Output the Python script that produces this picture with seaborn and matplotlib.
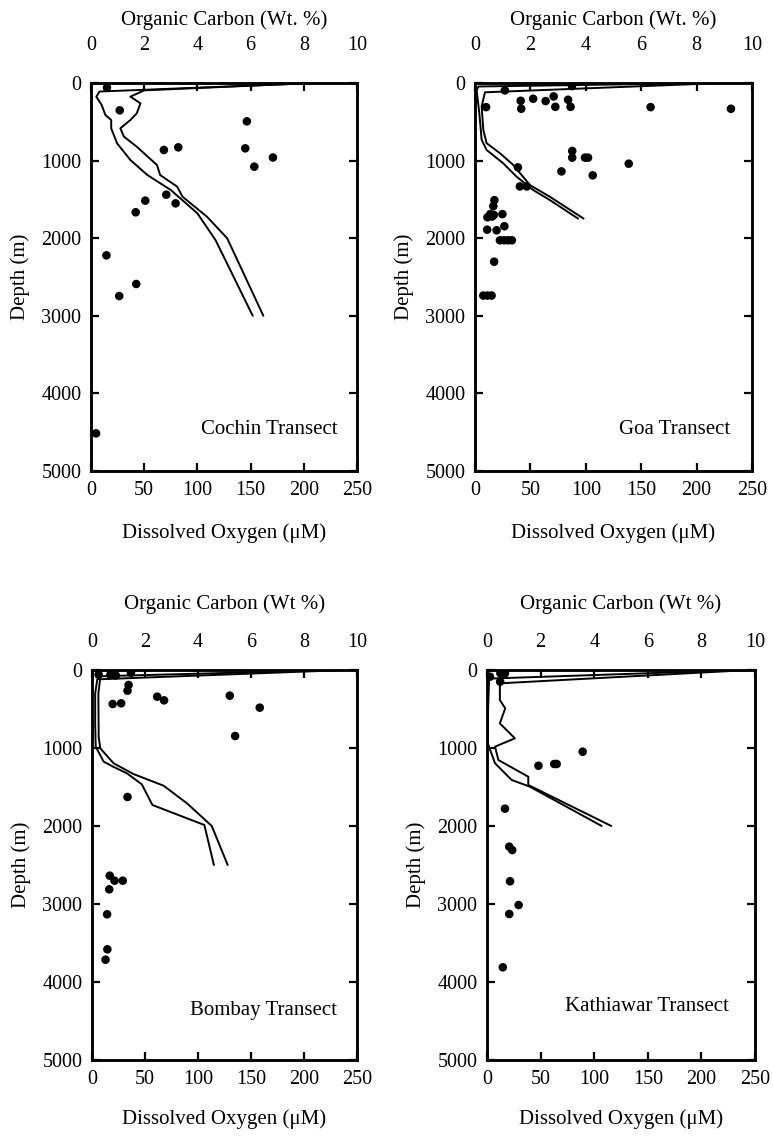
import numpy as np
import pandas as pd
import matplotlib
matplotlib.use("Agg")
import matplotlib.pyplot as plt
import seaborn as sns

sns.set_style("ticks")
plt.rcParams['font.family'] = ['Liberation Serif', 'DejaVu Serif']
plt.rcParams['mathtext.fontset'] = 'stix'
for k in ['text.color', 'axes.labelcolor', 'xtick.color', 'ytick.color', 'axes.edgecolor']:
    plt.rcParams[k] = 'black'

# ---------------- data ----------------
# Cochin
cochin_oc = [0.6, 1.08, 5.86, 2.74, 3.28, 5.8, 6.14, 6.84, 2.83, 2.04, 3.18, 1.68, 0.58, 1.70, 1.06, 0.19]
cochin_oc_depth = [60, 352, 494, 863, 829, 842, 1078, 960, 1439, 1516, 1551, 1666, 2221, 2590, 2745, 4515]
cochin_o2_a = [212, 8, 5, 10, 13.5, 19, 19, 24.5, 37, 53, 75, 100, 117, 152]
cochin_o2_a_depth = [0, 110, 176, 283, 412, 477, 584, 777, 992, 1186, 1379, 1680, 2023, 3000]
cochin_o2_b = [208, 50, 37, 46.5, 43, 37, 27.6, 31, 43, 62, 65, 81, 86, 109, 128, 162]
cochin_o2_b_depth = [0, 95, 176, 262, 391, 477, 584, 692, 821, 1057, 1186, 1336, 1465, 1723, 2001, 3000]

# Goa
goa_oc = [1.08, 3.5, 0.40, 1.65, 1.67, 2.1, 2.55, 2.84, 2.9, 3.36, 3.45, 6.34, 9.24,
          3.51, 3.51, 3.97, 4.08, 5.55, 3.12, 4.25, 1.55, 1.62, 1.87,
          0.70, 0.66, 0.55, 0.62, 0.68, 0.45, 0.99, 0.44, 1.06, 0.78,
          0.9, 1.05, 1.2, 1.33, 0.69, 0.3, 0.45, 0.6]
goa_oc_depth = [95, 40, 311, 229, 332, 203, 233, 173, 307, 216, 307, 311, 332,
                876, 962, 962, 962, 1040, 1139, 1190, 1087, 1333, 1333,
                1510, 1587, 1690, 1720, 1700, 1730, 1690, 1890, 1846, 1898,
                2027, 2027, 2027, 2027, 2303, 2739, 2739, 2739]
goa_o2_a = [218, 3, 1.5, 3.9, 6, 10.5, 25.5, 37.6, 52.6, 67.7, 93]
goa_o2_a_depth = [0, 45, 100, 388, 733, 863, 1035, 1208, 1380, 1510, 1747]
goa_o2_b = [215, 9, 6, 7.5, 10.5, 22.6, 34.6, 49.6, 67.7, 98]
goa_o2_b_depth = [5, 120, 302, 604, 776, 906, 1057, 1316, 1467, 1747]

# Bombay
bombay_oc = [0.25, 0.69, 0.9, 1.47, 1.38, 1.34, 0.78, 1.1, 2.46, 2.72, 5.2, 6.33, 5.4,
             1.34, 0.67, 0.85, 1.16, 0.65, 0.57, 0.58, 0.51]
bombay_oc_depth = [60, 64, 70, 35, 192, 265, 436, 427, 342, 389, 329, 483, 846,
                   1628, 2637, 2701, 2701, 2812, 3132, 3581, 3714]
bombay_o2_a = [240, 5, 3, 3, 3.5, 11, 20, 33, 47, 57, 106, 115]
bombay_o2_a_depth = [0, 120, 300, 700, 983, 1175, 1240, 1325, 1466, 1731, 1987, 2500]
bombay_o2_b = [232, 8, 6, 6.3, 7.8, 20.4, 39, 67.5, 89.6, 113, 128]
bombay_o2_b_depth = [0, 80, 300, 855, 1004, 1196, 1333, 1483, 1709, 2000, 2500]

# Kathiawar
kathiawar_oc = [0.11, 0.5, 0.67, 0.49, 3.57, 1.92, 2.51, 2.6, 0.67, 0.83, 0.94, 0.86, 1.18, 0.83, 0.59]
kathiawar_oc_depth = [86, 43, 43, 150, 1047, 1227, 1205, 1205, 1778, 2265, 2308, 2709, 3013, 3128, 3812]
kathiawar_o2_a = [245, 12, 12, 17, 12, 26, 7.5, 10.6, 38.5, 38.5, 116]
kathiawar_o2_a_depth = [0, 171, 385, 491, 684, 876, 983, 1154, 1368, 1474, 2000]
kathiawar_o2_b = [240, 2, 1, 1, 7.5, 23, 40, 107]
kathiawar_o2_b_depth = [0, 110, 500, 950, 1196, 1410, 1496, 2000]

transect_names = ["Cochin Transect", "Goa Transect", "Bombay Transect", "Kathiawar Transect"]
top_labels = ["Organic Carbon (Wt. %)", "Organic Carbon (Wt. %)",
              "Organic Carbon (Wt %)", "Organic Carbon (Wt %)"]
bottom_label = "Dissolved Oxygen (\u03bcM)"
depth_label = "Depth (m)"
o2_ticks = [0, 50, 100, 150, 200, 250]
oc_ticks = [0, 2, 4, 6, 8, 10]
depth_ticks = [0, 1000, 2000, 3000, 4000, 5000]

panels = [
    (cochin_oc, cochin_oc_depth, cochin_o2_a, cochin_o2_a_depth, cochin_o2_b, cochin_o2_b_depth),
    (goa_oc, goa_oc_depth, goa_o2_a, goa_o2_a_depth, goa_o2_b, goa_o2_b_depth),
    (bombay_oc, bombay_oc_depth, bombay_o2_a, bombay_o2_a_depth, bombay_o2_b, bombay_o2_b_depth),
    (kathiawar_oc, kathiawar_oc_depth, kathiawar_o2_a, kathiawar_o2_a_depth, kathiawar_o2_b, kathiawar_o2_b_depth),
]

W, H = 773, 1137
fig = plt.figure(figsize=(W / 100, H / 100), dpi=100)
# pixel boxes (left, top, right, bottom)
boxes = [(91, 83, 357, 471), (475, 83, 752, 471), (92, 670, 357, 1060), (487, 670, 755, 1060)]
label_pos = [(232, 4460), (230, 4460), (231, 4360), (226, 4320)]
top_tick_pad = [20, 20, 13, 13]
top_label_pad = [8, 8, 17, 17]
bottom_label_pad = [17, 17, 15, 15]

FS = 14.5
for i, (box, data) in enumerate(zip(boxes, panels)):
    l, t, r, b = box
    ax = fig.add_axes([l / W, 1 - b / H, (r - l) / W, (b - t) / H])
    oc, ocd, oa, oad, ob, obd = data
    sns.lineplot(x=oa, y=oad, sort=False, estimator=None, ax=ax, color='black', lw=1.4)
    sns.lineplot(x=ob, y=obd, sort=False, estimator=None, ax=ax, color='black', lw=1.4)
    ax.set_xlim(0, 250)
    ax.set_ylim(5000, 0)
    ax.set_xticks(o2_ticks)
    ax.set_yticks(depth_ticks)
    ax.set_xlabel(bottom_label, fontsize=FS + 0.5, labelpad=bottom_label_pad[i])
    ax.set_ylabel(depth_label, fontsize=FS + 0.5, labelpad=8)
    ax.tick_params(axis='both', direction='in', length=6, width=1.6, labelsize=FS,
                   top=False, right=True, labelright=False, pad=7, colors='black')
    for sp in ax.spines.values():
        sp.set_linewidth(1.8)
        sp.set_color('black')
        sp.set_visible(True)

    ax2 = ax.twiny()
    sns.scatterplot(x=oc, y=ocd, ax=ax2, color='black', s=38, edgecolor='none', linewidth=0)
    ax2.set_xlim(0, 10)
    ax2.set_ylim(5000, 0)
    ax2.set_xticks(oc_ticks)
    ax2.set_xlabel(top_labels[i], fontsize=FS + 0.5, labelpad=top_label_pad[i])
    ax2.set_ylabel("")
    ax2.tick_params(axis='x', direction='in', length=6, width=1.6, labelsize=FS,
                    pad=top_tick_pad[i], colors='black')
    for sp in ax2.spines.values():
        sp.set_linewidth(1.8)
        sp.set_color('black')
        sp.set_visible(True)

    tx, ty = label_pos[i]
    ax.text(tx, ty, transect_names[i], ha='right', va='center', fontsize=15, color='black')

fig.savefig("out.png", dpi=100, facecolor='white')
